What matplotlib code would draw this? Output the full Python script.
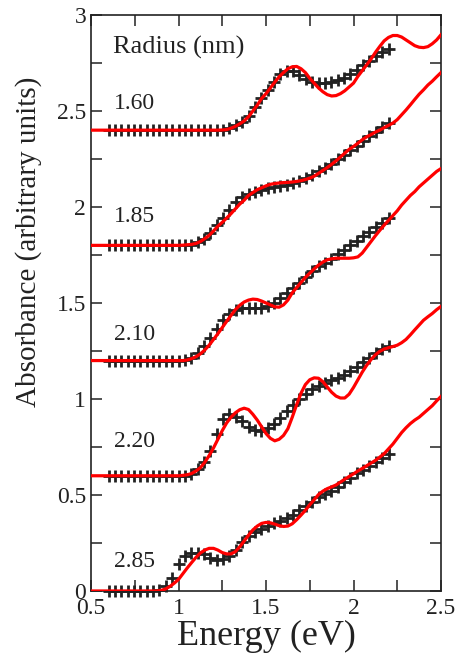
import numpy as np
import matplotlib
matplotlib.use('Agg')
import matplotlib.pyplot as plt
from matplotlib.ticker import MultipleLocator, FormatStrFormatter

plt.rcParams['font.family'] = ['Liberation Serif', 'DejaVu Serif']

# ------------------------------------------------------------------
# Measured absorbance (black crosses), offset already included
# ------------------------------------------------------------------
e_data = [0.600, 0.636, 0.673, 0.709, 0.745, 0.782, 0.818, 0.855, 0.891, 0.927,
          0.964, 1.000, 1.036, 1.073, 1.109, 1.145, 1.182, 1.218, 1.255, 1.291,
          1.327, 1.364, 1.400, 1.436, 1.473, 1.509, 1.545, 1.582, 1.618, 1.655,
          1.691, 1.727, 1.764, 1.800, 1.836, 1.873, 1.909, 1.945, 1.982, 2.018,
          2.055, 2.091, 2.127, 2.164, 2.200]

data_160 = [2.40, 2.40, 2.40, 2.40, 2.40, 2.40, 2.40, 2.40, 2.40, 2.40,
            2.40, 2.40, 2.40, 2.40, 2.40, 2.40, 2.40, 2.40, 2.402, 2.41,
            2.425, 2.445, 2.475, 2.52, 2.57, 2.61, 2.65, 2.69, 2.71, 2.71,
            2.685, 2.665, 2.65, 2.645, 2.648, 2.652, 2.66, 2.672, 2.69, 2.715,
            2.74, 2.76, 2.785, 2.805, 2.825]
data_185 = [1.80, 1.80, 1.80, 1.80, 1.80, 1.80, 1.80, 1.80, 1.80, 1.80,
            1.80, 1.80, 1.80, 1.803, 1.815, 1.835, 1.865, 1.905, 1.945, 1.985,
            2.025, 2.05, 2.066, 2.08, 2.09, 2.098, 2.105, 2.11, 2.115, 2.124,
            2.135, 2.15, 2.165, 2.185, 2.205, 2.225, 2.25, 2.272, 2.297, 2.32,
            2.345, 2.37, 2.393, 2.415, 2.435]
data_210 = [1.20, 1.20, 1.20, 1.20, 1.20, 1.20, 1.20, 1.20, 1.20, 1.20,
            1.20, 1.20, 1.205, 1.215, 1.24, 1.275, 1.32, 1.365, 1.41, 1.445,
            1.465, 1.473, 1.475, 1.473, 1.475, 1.485, 1.502, 1.525, 1.55, 1.577,
            1.605, 1.635, 1.665, 1.69, 1.71, 1.73, 1.755, 1.778, 1.80, 1.825,
            1.85, 1.87, 1.895, 1.918, 1.94]
data_220 = [0.60, 0.60, 0.60, 0.60, 0.60, 0.60, 0.60, 0.60, 0.60, 0.60,
            0.60, 0.60, 0.60, 0.61, 0.635, 0.67, 0.73, 0.82, 0.895, 0.92,
            0.905, 0.885, 0.855, 0.838, 0.832, 0.848, 0.872, 0.90, 0.935, 0.97,
            1.00, 1.027, 1.05, 1.07, 1.085, 1.097, 1.11, 1.127, 1.145, 1.167,
            1.19, 1.215, 1.238, 1.258, 1.278]
data_285 = [0.0, 0.0, 0.0, 0.0, 0.0, 0.0, 0.0, 0.0, 0.005, 0.025,
            0.07, 0.14, 0.18, 0.198, 0.20, 0.19, 0.172, 0.163, 0.165, 0.18,
            0.215, 0.255, 0.288, 0.308, 0.322, 0.338, 0.352, 0.362, 0.378, 0.398,
            0.42, 0.443, 0.465, 0.487, 0.503, 0.52, 0.54, 0.568, 0.59, 0.612,
            0.632, 0.653, 0.673, 0.693, 0.715]

# ------------------------------------------------------------------
# Calculated spectra (red lines)
# ------------------------------------------------------------------
e_fit = [0.500, 0.525, 0.550, 0.575, 0.600, 0.625, 0.650, 0.675, 0.700, 0.725,
         0.750, 0.775, 0.800, 0.825, 0.850, 0.875, 0.900, 0.925, 0.950, 0.975,
         1.000, 1.025, 1.050, 1.075, 1.100, 1.125, 1.150, 1.175, 1.200, 1.225,
         1.250, 1.275, 1.300, 1.325, 1.350, 1.375, 1.400, 1.425, 1.450, 1.475,
         1.500, 1.525, 1.550, 1.575, 1.600, 1.625, 1.650, 1.675, 1.700, 1.725,
         1.750, 1.775, 1.800, 1.825, 1.850, 1.875, 1.900, 1.925, 1.950, 1.975,
         2.000, 2.025, 2.050, 2.075, 2.100, 2.125, 2.150, 2.175, 2.200, 2.225,
         2.250, 2.275, 2.300, 2.325, 2.350, 2.375, 2.400, 2.425, 2.450, 2.475,
         2.500]

fit_160 = [2.40, 2.40, 2.40, 2.40, 2.40, 2.40, 2.40, 2.40, 2.40, 2.40,
           2.40, 2.40, 2.40, 2.40, 2.40, 2.40, 2.40, 2.40, 2.40, 2.40,
           2.40, 2.40, 2.40, 2.40, 2.40, 2.40, 2.40, 2.40, 2.40, 2.40,
           2.401, 2.403, 2.41, 2.42, 2.433, 2.448, 2.47, 2.50, 2.53, 2.565,
           2.59, 2.62, 2.65, 2.678, 2.70, 2.72, 2.73, 2.732, 2.72, 2.70,
           2.67, 2.645, 2.62, 2.60, 2.585, 2.578, 2.58, 2.59, 2.605, 2.625,
           2.645, 2.68, 2.71, 2.74, 2.77, 2.805, 2.836, 2.865, 2.883, 2.893,
           2.893, 2.885, 2.87, 2.855, 2.84, 2.832, 2.83, 2.835, 2.85, 2.87,
           2.897]
fit_185 = [1.80, 1.80, 1.80, 1.80, 1.80, 1.80, 1.80, 1.80, 1.80, 1.80,
           1.80, 1.80, 1.80, 1.80, 1.80, 1.80, 1.80, 1.80, 1.80, 1.80,
           1.80, 1.801, 1.803, 1.805, 1.81, 1.82, 1.835, 1.852, 1.875, 1.90,
           1.92, 1.942, 1.965, 1.99, 2.015, 2.035, 2.06, 2.075, 2.09, 2.10,
           2.11, 2.118, 2.122, 2.125, 2.127, 2.128, 2.13, 2.133, 2.137, 2.143,
           2.15, 2.16, 2.175, 2.19, 2.205, 2.222, 2.24, 2.26, 2.28, 2.30,
           2.315, 2.332, 2.35, 2.365, 2.377, 2.39, 2.40, 2.413, 2.425, 2.437,
           2.455, 2.48, 2.505, 2.532, 2.56, 2.587, 2.61, 2.635, 2.655, 2.678,
           2.70]
fit_210 = [1.20, 1.20, 1.20, 1.20, 1.20, 1.20, 1.20, 1.20, 1.20, 1.20,
           1.20, 1.20, 1.20, 1.20, 1.20, 1.20, 1.20, 1.20, 1.20, 1.20,
           1.20, 1.20, 1.203, 1.21, 1.22, 1.235, 1.255, 1.28, 1.31, 1.34,
           1.372, 1.404, 1.435, 1.465, 1.488, 1.505, 1.515, 1.52, 1.518, 1.51,
           1.50, 1.49, 1.48, 1.478, 1.49, 1.515, 1.553, 1.58, 1.607, 1.633,
           1.655, 1.677, 1.697, 1.713, 1.725, 1.73, 1.733, 1.733, 1.733, 1.733,
           1.735, 1.74, 1.76, 1.79, 1.82, 1.85, 1.878, 1.905, 1.93, 1.955,
           1.98, 2.01, 2.035, 2.06, 2.08, 2.105, 2.125, 2.145, 2.165, 2.185,
           2.20]
fit_220 = [0.60, 0.60, 0.60, 0.60, 0.60, 0.60, 0.60, 0.60, 0.60, 0.60,
           0.60, 0.60, 0.60, 0.60, 0.60, 0.60, 0.60, 0.60, 0.60, 0.60,
           0.60, 0.602, 0.605, 0.612, 0.625, 0.642, 0.67, 0.705, 0.745, 0.79,
           0.835, 0.875, 0.905, 0.928, 0.944, 0.952, 0.945, 0.92, 0.89, 0.855,
           0.82, 0.795, 0.782, 0.79, 0.81, 0.845, 0.905, 0.97, 1.03, 1.075,
           1.10, 1.11, 1.108, 1.09, 1.062, 1.035, 1.015, 1.005, 1.005, 1.025,
           1.06, 1.10, 1.14, 1.175, 1.205, 1.23, 1.248, 1.26, 1.267, 1.273,
           1.28, 1.293, 1.31, 1.334, 1.36, 1.385, 1.41, 1.428, 1.445, 1.465,
           1.482]
fit_285 = [0.0, 0.0, 0.0, 0.0, 0.0, 0.0, 0.0, 0.0, 0.0, 0.0,
           0.0, 0.0, 0.0, 0.0, 0.0, 0.0, 0.003, 0.01, 0.023, 0.04,
           0.06, 0.09, 0.12, 0.148, 0.175, 0.198, 0.213, 0.222, 0.222, 0.213,
           0.20, 0.193, 0.193, 0.205, 0.23, 0.26, 0.29, 0.318, 0.338, 0.352,
           0.357, 0.355, 0.348, 0.34, 0.336, 0.338, 0.35, 0.371, 0.395, 0.42,
           0.449, 0.475, 0.502, 0.52, 0.533, 0.542, 0.552, 0.567, 0.582, 0.596,
           0.61, 0.625, 0.638, 0.652, 0.666, 0.68, 0.697, 0.715, 0.74, 0.765,
           0.795, 0.825, 0.85, 0.872, 0.89, 0.905, 0.925, 0.945, 0.965, 0.99,
           1.013]

radii = ['1.60', '1.85', '2.10', '2.20', '2.85']
label_y = [2.54, 1.95, 1.335, 0.78, 0.155]
data_sets = [data_160, data_185, data_210, data_220, data_285]
fit_sets = [fit_160, fit_185, fit_210, fit_220, fit_285]

# ------------------------------------------------------------------
fig = plt.figure(figsize=(4.58, 6.62), dpi=100)
ax = fig.add_axes([0.1987, 0.1073, 0.7642, 0.8701])

for d, f in zip(data_sets, fit_sets):
    ax.plot(e_data, d, ls='none', marker='+', ms=9, mew=2.0, color='#222222',
            clip_on=False, zorder=2)
    ax.plot(e_fit, f, color='red', lw=2.3, zorder=3)

for r, y in zip(radii, label_y):
    ax.text(0.632, y, r, fontsize=17, va='center', ha='left', color='#222222')
ax.text(0.627, 2.83, 'Radius (nm)', fontsize=19, va='center', ha='left', color='#222222')

ax.set_xlim(0.5, 2.5)
ax.set_ylim(0, 3)
ax.xaxis.set_major_locator(MultipleLocator(0.5))
ax.xaxis.set_minor_locator(MultipleLocator(0.25))
ax.yaxis.set_major_locator(MultipleLocator(0.5))
ax.yaxis.set_minor_locator(MultipleLocator(0.25))
ax.xaxis.set_major_formatter(FormatStrFormatter('%g'))
ax.yaxis.set_major_formatter(FormatStrFormatter('%g'))
ax.tick_params(which='both', direction='in', top=True, right=True,
               length=8, width=1.1, labelsize=17, colors='#222222')
ax.tick_params(axis='x', pad=5)
for s in ax.spines.values():
    s.set_linewidth(1.2)
    s.set_color('#222222')

ax.set_xlabel('Energy (eV)', fontsize=26, color='#222222', labelpad=1)
ax.set_ylabel('Absorbance (arbitrary units)', fontsize=21, color='#222222')
ax.yaxis.set_label_coords(-0.14, 0.607)

fig.savefig('out.png', dpi=100)
